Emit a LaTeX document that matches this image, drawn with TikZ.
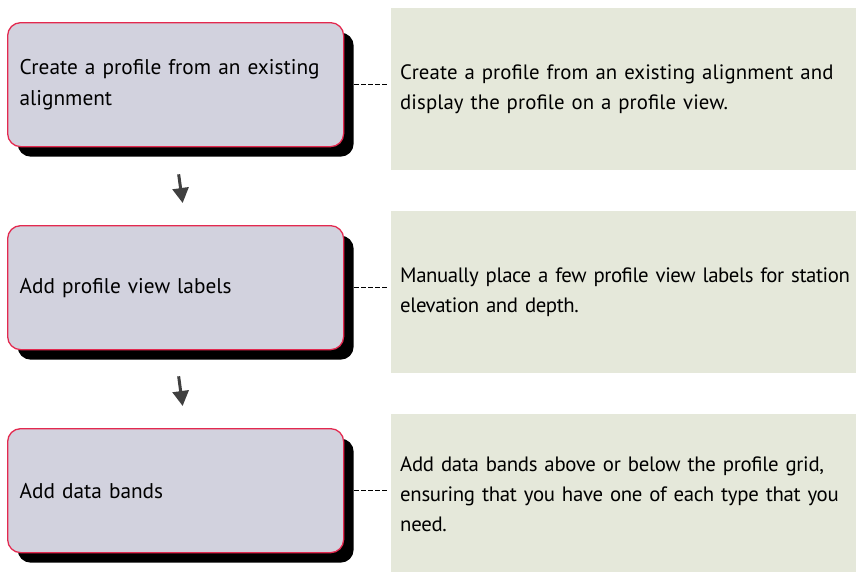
\documentclass[tikz,border=0pt]{standalone}
\usepackage{fontspec}
\setmainfont{PT Sans}
\usetikzlibrary{arrows.meta,shadows}
\definecolor{boxfill}{HTML}{D2D2DE}
\definecolor{boxline}{HTML}{E3294F}
\definecolor{notefill}{HTML}{E5E8DA}
\definecolor{arrgray}{HTML}{404040}
\begin{document}
\begin{tikzpicture}[x=1pt,y=-1pt,
  stepbox/.style={draw=boxline, line width=1.3pt, fill=boxfill, rounded corners=13pt,
    minimum width=336pt, minimum height=124pt, text width=312pt, align=left,
    inner sep=12pt, anchor=north west,
    font=\fontsize{21.3}{31}\selectfont,
    drop shadow={shadow xshift=10pt, shadow yshift=-10pt, fill=black, opacity=1}},
  notebox/.style={fill=notefill, inner sep=9pt, text width=470pt, align=left,
    anchor=north west, font=\fontsize{20.8}{30}\selectfont},
  dashlink/.style={draw=black, line width=0.9pt, dash pattern=on 4.5pt off 2.5pt},
  flowarr/.style={draw=arrgray, line width=3pt, -{Triangle[width=16pt,length=15pt]}}]
\useasboundingbox (0,0) rectangle (856,571);
% note panels
\node[notebox, minimum height=162pt] (n1) at (391,8) {\addfontfeature{LetterSpace=0.5}Create a profile from an existing alignment and\\display the profile on a profile view.};
\node[notebox, minimum height=162pt] (n2) at (391,211) {\addfontfeature{LetterSpace=-2}Manually place a few profile view labels for station\\elevation and depth.};
\node[notebox, minimum height=160pt] (n3) at (391,414) {\addfontfeature{LetterSpace=-1.5}Add data bands above or below the profile grid,\\ensuring that you have one of each type that you\\need.};
% steps
\node[stepbox] (b1) at (7,22) {Create a profile from an existing\\alignment};
\node[stepbox] (b2) at (7,225) {Add profile view labels};
\node[stepbox] (b3) at (7,428) {Add data bands};
% dashed links
\draw[dashlink] ([xshift=10pt]b1.east) -- ([xshift=-3pt]n1.west |- b1.east);
\draw[dashlink] ([xshift=10pt]b2.east) -- ([xshift=-3pt]n2.west |- b2.east);
\draw[dashlink] ([xshift=10pt]b3.east) -- ([xshift=-3pt]n3.west |- b3.east);
% flow arrows
\draw[flowarr] ([xshift=3pt,yshift=-27pt]b1.south) -- ([xshift=7pt,yshift=22pt]b2.north);
\draw[flowarr] ([xshift=3pt,yshift=-26pt]b2.south) -- ([xshift=7pt,yshift=22pt]b3.north);
\end{tikzpicture}
\end{document}
